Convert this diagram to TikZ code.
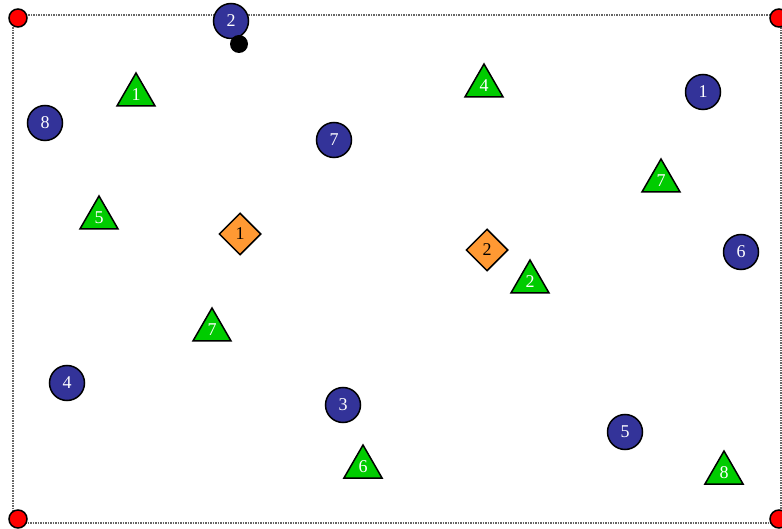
\documentclass[tikz,border=0pt]{standalone}
\usepackage{fontspec}
\setmainfont{Liberation Serif}
\usepackage{xcolor}
\usetikzlibrary{shapes.geometric}
\definecolor{sensorblue}{HTML}{333399}
\definecolor{targetgreen}{HTML}{00CC00}
\definecolor{sinkorange}{HTML}{FF9933}

\begin{document}
\begin{tikzpicture}[
    x=1pt,y=-1pt,
    sensor/.style={circle,draw,line width=1.5pt,fill=sensorblue,text=white,minimum size=35pt,inner sep=0pt,font=\fontsize{18}{18}\selectfont},
    target/.style={regular polygon,regular polygon sides=3,draw,line width=1.5pt,fill=targetgreen,text=white,minimum size=44pt,inner sep=0pt,font=\fontsize{18}{18}\selectfont},
    sink/.style={diamond,draw,line width=1.5pt,fill=sinkorange,minimum size=42pt,inner sep=0pt,font=\fontsize{18}{18}\selectfont},
    anchorpt/.style={circle,draw,line width=1.5pt,fill=red,minimum size=18pt,inner sep=0pt},
    border/.style={draw=gray!80!black,dash pattern=on 1.5pt off 1pt,line width=1.5pt}
]
\useasboundingbox (0,0) rectangle (782,529);
\coordinate (nw) at (13,15);
\coordinate (se) at (781,523);
\draw[border] (nw) rectangle (se);
% corner anchors
\node[anchorpt] (a1) at (18,18) {};
\node[anchorpt] (a2) at (779,18) {};
\node[anchorpt] (a3) at (18,519) {};
\node[anchorpt] (a4) at (779,519) {};
% sensors
\node[sensor] (s1) at (703,92) {1};
\node[sensor] (s2) at (231,21) {2};
\node[sensor] (s3) at (343,405) {3};
\node[sensor] (s4) at (67,383) {4};
\node[sensor] (s5) at (625,432) {5};
\node[sensor] (s6) at (741,252) {6};
\node[sensor] (s7) at (334,140) {7};
\node[sensor] (s8) at (45,123) {8};
\node[circle,fill=black,minimum size=18pt,inner sep=0pt] (mobile) at (239,44) {};
% targets
\node[target] (t1) at (136,95) {1};
\node[target] (t2) at (530,282) {2};
\node[target] (t4) at (484,86) {4};
\node[target] (t5) at (99,218) {5};
\node[target] (t6) at (363,467) {6};
\node[target] (t7a) at (212,330) {7};
\node[target] (t7b) at (661,181) {7};
\node[target] (t8) at (724,473) {8};
% sinks
\node[sink] (k1) at (240,234) {1};
\node[sink] (k2) at (487,250) {2};
\end{tikzpicture}
\end{document}
